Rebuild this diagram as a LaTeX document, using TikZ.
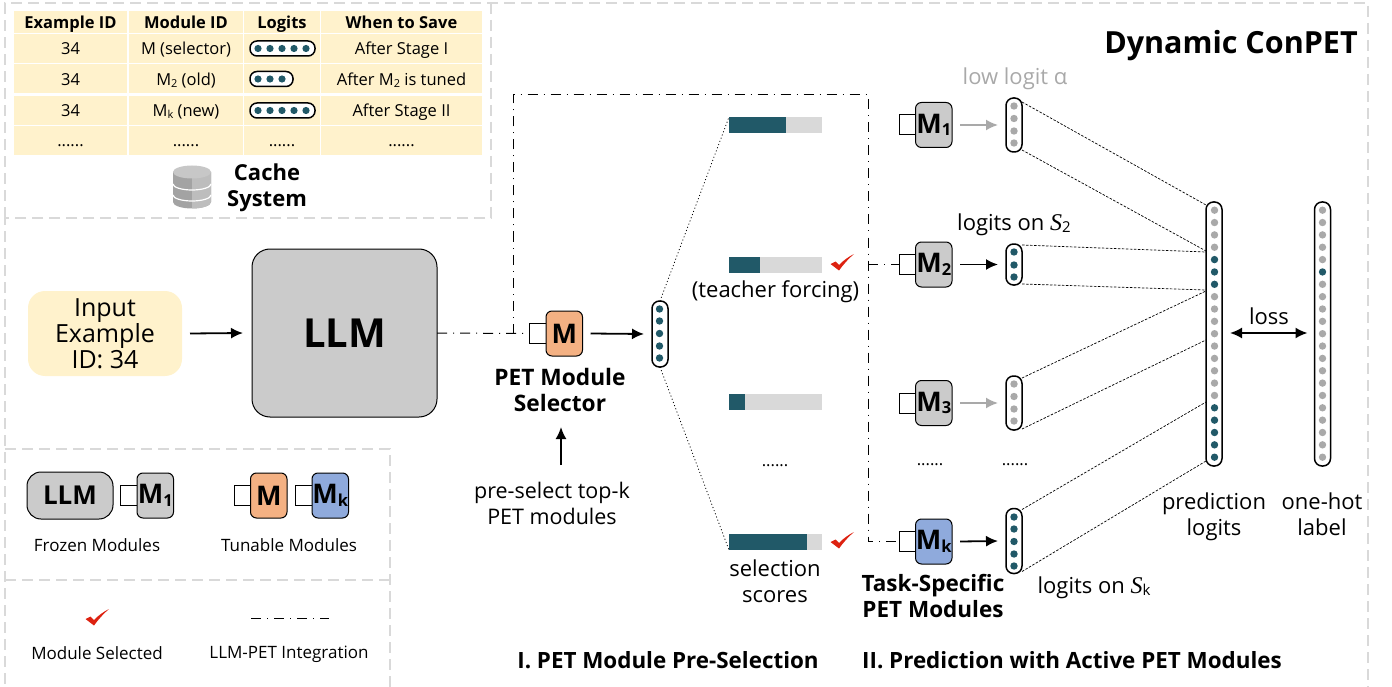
\documentclass[tikz,border=0pt]{standalone}
\usepackage{fontspec}
\setmainfont{Open Sans}
\newfontfamily\mathish{Liberation Serif}
\usetikzlibrary{arrows.meta,calc}
\definecolor{tealc}{HTML}{215968}
\definecolor{dotgray}{HTML}{A9A9A9}
\definecolor{cream}{HTML}{FFF2CC}
\definecolor{framegray}{HTML}{D9D9D9}
\definecolor{modgray}{HTML}{CBCBCB}
\definecolor{orangem}{HTML}{F4B183}
\definecolor{bluem}{HTML}{8FAADC}
\definecolor{barbackc}{HTML}{D9D9D9}
\definecolor{redcheck}{HTML}{DD2211}
\newcommand{\fs}[1]{\fontsize{#1}{26}\selectfont}
\newcommand{\msub}[2]{#1\raisebox{-2.5pt}{\fs{16.5}#2}}
\newcommand{\tsub}[1]{\raisebox{-2pt}{\fs{11}#1}}
\newcommand{\sixd}{......}
\tikzset{
  frame/.style={draw=framegray,line width=1.6pt,dash pattern=on 11pt off 6pt},
  cell/.style={fill=cream,inner sep=0pt,outer sep=0pt,anchor=center,text=black,text height=16pt,text depth=3.5pt},
  lab/.style={inner sep=0pt,outer sep=0pt,align=center,text=black},
  pill/.style={draw=black,line width=1.5pt,fill=white,inner sep=0pt,outer sep=0pt,minimum width=16pt,rounded corners=7.5pt},
  hpill/.style={draw=black,line width=1.5pt,fill=white,inner sep=0pt,outer sep=0pt,minimum height=15pt,rounded corners=7pt},
  smallbox/.style={draw=black,line width=1pt,fill=white,inner sep=0pt,outer sep=0pt,minimum width=16.5pt,minimum height=20pt},
  bigbox/.style={draw=black,line width=1pt,rounded corners=6pt,inner sep=0pt,outer sep=0pt,minimum width=36.5pt,minimum height=45pt,font=\fs{27}\bfseries},
  blackarrow/.style={draw=black,line width=1.8pt,-{Latex[length=12pt,width=11pt]}},
  grayarrow/.style={draw=dotgray,line width=1.8pt,-{Latex[length=12pt,width=11pt]}},
  dashdot/.style={draw=black,line width=1pt,dash pattern=on 10pt off 6pt on 1pt off 6pt},
  thindash/.style={draw=black,line width=.7pt,dash pattern=on 2.5pt off 1.5pt},
  thindot/.style={draw=black,line width=.8pt,dash pattern=on 1pt off 2.4pt},
  barbg/.style={fill=barbackc,inner sep=0pt,outer sep=0pt,minimum height=16pt,minimum width=93pt,anchor=west},
  barfg/.style={fill=tealc,inner sep=0pt,outer sep=0pt,minimum height=16pt,anchor=west},
}
% module: name, left of big box, y centre, fill, label
\newcommand{\modbox}[5]{%
  \node[smallbox,anchor=east] (#1s) at (#2,#3) {};
  \node[bigbox,fill=#4,anchor=west] (#1) at (#2,#3) {#5};
}
\newcommand{\checkmk}[2]{%
  \fill[redcheck,shift={(#1,#2)}] (-11.5,1) -- (-6.5,-1.5) -- (-3,2) .. controls (2,-3) and (6,-6) .. (12,-9) .. controls (6,-4) and (1,2) .. (-3,7.5) -- cycle;
}
\begin{document}
\begin{tikzpicture}[x=1pt,y=-1pt]
\useasboundingbox (0,0) rectangle (1392,687);
% frames
\draw[frame] (5,218) -- (5,3) -- (1368,3) -- (1368,687);
\draw[frame] (491,3) -- (491,218) -- (5,218) -- (5,687);
\draw[frame] (5,449) -- (390,449) -- (390,687);
\draw[frame] (5,580) -- (390,580);
\node[lab,font=\fs{30.5}\bfseries] (title) at (1231,46) {Dynamic ConPET};
% table
\foreach \nm/\x/\w/\y/\h/\txt in {
 a1/70.5/113/22/22/{\bfseries Example ID},b1/186/114/22/22/{\bfseries Module ID},c1/282/76/22/22/{\bfseries Logits},d1/401.5/161/22/22/{\bfseries When to Save},
 a2/70.5/113/48.5/29/34,b2/186/114/48.5/29/M (selector),c2/282/76/48.5/29/{},d2/401.5/161/48.5/29/After Stage I,
 a3/70.5/113/79/29/34,b3/186/114/79/29/M\tsub{2} (old),c3/282/76/79/29/{},d3/401.5/161/79/29/After M\tsub{2} is tuned,
 a4/70.5/113/110.5/29/34,b4/186/114/110.5/29/M\tsub{k} (new),c4/282/76/110.5/29/{},d4/401.5/161/110.5/29/After Stage II,
 a5/70.5/113/140.5/29/\sixd,b5/186/114/140.5/29/\sixd,c5/282/76/140.5/29/\sixd,d5/401.5/161/140.5/29/\sixd}{
  \node[cell,minimum width=\w pt,minimum height=\h pt,font=\fs{16.5}] (\nm) at (\x,\y) {\txt};
}
\foreach \nm/\xc/\yc/\w in {l1/282.5/48.5/65,l2/271.5/79/43,l3/282.5/110.5/65}{
  \node[hpill,minimum width=\w pt] (\nm) at (\xc,\yc) {};
}
\foreach \y in {48.5,110.5}{\foreach \x in {258,270,282,294,306}{\fill[tealc] (\x,\y) circle (3.6);}}
\foreach \x in {258,270,282}{\fill[tealc] (\x,79) circle (3.6);}
% database
\begin{scope}
\fill[black!36] (173,172) -- (173,202) arc[start angle=180,end angle=0,x radius=19,y radius=6.5] -- (211,172) -- cycle;
\fill[black!26] (192,172) -- (192,208.5) arc[start angle=90,end angle=0,x radius=19,y radius=6.5] -- (211,172) -- cycle;
\draw[white,line width=1.2] (173,184) arc[start angle=180,end angle=0,x radius=19,y radius=6];
\draw[white,line width=1.2] (173,195) arc[start angle=180,end angle=0,x radius=19,y radius=6];
\fill[black!22] (192,172) ellipse[x radius=19,y radius=6.5];
\end{scope}
\node[lab,font=\fs{22}\bfseries] (cache) at (267,188) {Cache\\System};
% input and LLM
\node[fill=cream,rounded corners=17pt,minimum width=154pt,minimum height=85pt,inner sep=0pt,outer sep=0pt,align=center,font=\fs{25}] (input) at (105,333.5) {Input\\Example\\ID: 34};
\node[draw=black,line width=1pt,fill=modgray,rounded corners=18pt,minimum width=185pt,minimum height=168pt,inner sep=0pt,outer sep=0pt,font=\fs{40}\bfseries] (llm) at (344.5,333) {LLM};
\path[blackarrow] ($(input.east)+(8,0)$) -- ($(llm.west)+(-9,0)$);
% selector
\modbox{m0}{546}{333.5}{orangem}{M}
\node[pill,minimum height=66pt] (psel) at (660,334) {};
\foreach \y in {309,321,333.5,346,358}{\fill[tealc] (659.5,\y) circle (3.7);}
\path[blackarrow] ($(m0.east)+(8,0)$) -- ($(psel.west)+(-8,0)$);
\node[lab,font=\fs{22.7}\bfseries] (seltxt) at (560,390) {PET Module\\Selector};
\node[lab,font=\fs{21.5}] (presel) at (552,503) {pre-select top-k\\PET modules};
\coordinate (upa) at (561,465);
\coordinate (upb) at (561,427);
\draw[blackarrow] (upa) -- (upb);
% bars
\foreach \nm/\y/\w in {b1/125/57,b2/265/31,b3/402/16,b4/542/78}{
  \node[barbg] (bar\nm) at (729,\y) {};
  \node[barfg,minimum width=\w pt] (bar\nm f) at (729,\y) {};
}
\draw[thindot] (psel.north) -- (barb1.north west);
\draw[thindot] (psel.south) -- (barb4.south west);
\checkmk{842}{263}
\checkmk{842}{541}
\node[lab,font=\fs{22}] (tf) at (775.5,292) {(teacher forcing)};
\node[lab,font=\fs{16.5}] (dots0) at (775,465.5) {\sixd};
\node[lab,font=\fs{22}] (ss) at (775,581) {selection\\scores};
% modules
\modbox{m1}{915.5}{125}{modgray}{\msub{M}{1}}
\modbox{m2}{915.5}{264.5}{modgray}{\msub{M}{2}}
\modbox{m3}{915.5}{403}{modgray}{\msub{M}{3}}
\modbox{mk}{915.5}{541.5}{bluem}{\msub{M}{k}}
% logit pills
\node[pill,minimum height=54pt] (p1) at (1014,125) {};
\node[pill,minimum height=41pt] (p2) at (1014,264.5) {};
\node[pill,minimum height=54pt] (p3) at (1014,403) {};
\node[pill,minimum height=65pt] (pk) at (1014,541) {};
\foreach \y in {106,118.5,131,143}{\fill[dotgray] (1014,\y) circle (3.7);}
\foreach \y in {252,265,277}{\fill[tealc] (1014,\y) circle (3.7);}
\foreach \y in {384,396.5,409,421}{\fill[dotgray] (1014,\y) circle (3.7);}
\foreach \y in {517,529,541.5,554,566}{\fill[tealc] (1014,\y) circle (3.7);}
\path[grayarrow] ($(m1.east)+(8,0)$) -- ($(p1.west)+(-8,0)$);
\path[blackarrow] ($(m2.east)+(8,0)$) -- ($(p2.west)+(-8,0)$);
\path[grayarrow] ($(m3.east)+(8,0)$) -- ($(p3.west)+(-8,0)$);
\path[blackarrow] ($(mk.east)+(8,0)$) -- ($(pk.west)+(-8,0)$);
% dash-dot integration
\coordinate (j0) at (513,333.5);
\coordinate (j1) at (513,95);
\coordinate (j2) at (868,95);
\coordinate (j3) at (868,541.5);
\coordinate (j4) at (868,264.5);
\draw[dashdot] (llm.east) -- (m0s.west);
\draw[dashdot] (j0) -- (j1) -- (j2) -- (j3) -- (mks.west);
\draw[dashdot] (j4) -- (m2s.west);
% big pills
\node[pill,minimum height=264pt] (pred) at (1214,334) {};
\node[pill,minimum height=264pt] (hot) at (1322.5,334) {};
\foreach \i in {0,...,20}{
  \pgfmathsetmacro{\yy}{210.2+\i*12.35}
  \pgfmathtruncatemacro{\isT}{(\i>3 && \i<7) || \i>15 ? 1 : 0}
  \ifnum\isT=1 \fill[tealc] (1214.5,\yy) circle (3.7); \else \fill[dotgray] (1214.5,\yy) circle (3.7); \fi
  \ifnum\i=5 \fill[tealc] (1322.5,\yy) circle (3.7); \else \fill[dotgray] (1322.5,\yy) circle (3.7); \fi
}
% thin dashed fans
\coordinate (q1) at (1206,205);
\coordinate (q2) at (1206,251);
\coordinate (q3) at (1206,252);
\coordinate (q4) at (1206,290);
\coordinate (q5) at (1206,291);
\coordinate (q6) at (1206,340);
\coordinate (q7) at (1206,402);
\coordinate (q8) at (1206,461);
\draw[thindash] ([yshift=-4]p1.north east) -- (q1);
\draw[thindash] ([yshift=2]p1.south east) -- (q2);
\draw[thindash] ([yshift=-1]p2.north east) -- (q3);
\draw[thindash] ([yshift=1]p2.south east) -- (q4);
\draw[thindash] ([yshift=-2]p3.north east) -- (q5);
\draw[thindash] ([yshift=1]p3.south east) -- (q6);
\draw[thindash] ([yshift=-1]pk.north east) -- (q7);
\draw[thindash] ([yshift=2]pk.south east) -- (q8);
\draw[draw=black,line width=1.8pt,{Latex[length=12pt,width=11pt]}-{Latex[length=12pt,width=11pt]}] ($(pred.east)+(8,-1)$) -- ($(hot.west)+(-7,-1)$);
\node[lab,font=\fs{22}] (loss) at (1269,316) {loss};
\node[lab,font=\fs{22}] (pl) at (1214,516.5) {prediction\\logits};
\node[lab,font=\fs{22}] (ohl) at (1322,514) {one-hot\\label};
% labels around modules
\node[lab,font=\fs{22},text=dotgray] (low) at (1015,79) {low logit α};
\node[lab,font=\fs{22}] (ls2) at (1014,225) {logits on {\mathish\itshape\fs{24}S}\raisebox{-2pt}{\fs{15}2}};
\node[lab,font=\fs{22}] (lsk) at (1094,588) {logits on {\mathish\itshape\fs{24}S}\raisebox{-2pt}{\fs{15}k}};
\node[lab,font=\fs{16.5}] (dots1) at (930,465) {\sixd};
\node[lab,font=\fs{16.5}] (dots2) at (1015,465) {\sixd};
\node[lab,font=\fs{22.5}\bfseries] (task) at (933,596) {Task-Specific\\PET Modules};
\node[lab,font=\fs{22.4}\bfseries] (st1) at (668,660) {I. PET Module Pre-Selection};
\node[lab,font=\fs{22.4}\bfseries] (st2) at (1072,660) {II. Prediction with Active PET Modules};
% legend
\node[draw=black,line width=1pt,fill=modgray,rounded corners=14pt,minimum width=86pt,minimum height=47pt,inner sep=0pt,outer sep=0pt,font=\fs{26}\bfseries] (lg0) at (70,495.5) {LLM};
\modbox{lg1}{137}{495.5}{modgray}{\msub{M}{1}}
\modbox{lg2}{250.5}{495.5}{orangem}{M}
\modbox{lg3}{312}{495.5}{bluem}{\msub{M}{k}}
\node[lab,font=\fs{17}] (fm) at (97,545) {Frozen Modules};
\node[lab,font=\fs{17}] (tm) at (289,545) {Tunable Modules};
\checkmk{97}{618}
\coordinate (lga) at (251,618);
\coordinate (lgb) at (329,618);
\draw[dashdot] (lga) -- (lgb);
\node[lab,font=\fs{17}] (ms) at (97,653) {Module Selected};
\node[lab,font=\fs{17}] (lp) at (289,654.5) {LLM-PET Integration};
\end{tikzpicture}
\end{document}
